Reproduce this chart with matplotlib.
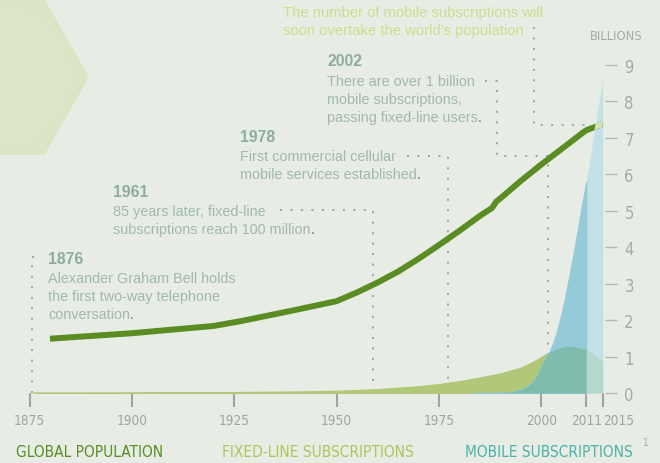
import numpy as np
import matplotlib
matplotlib.use("Agg")
import matplotlib.pyplot as plt
from matplotlib import font_manager as fm
from matplotlib.patches import Polygon, Ellipse

# ---- data (billions) ----
pop_years = [1880, 1900, 1910, 1920, 1927, 1930, 1940, 1950, 1955, 1960, 1965, 1970,
             1975, 1980, 1985, 1988, 1989, 1990, 1995, 2000, 2005, 2010, 2011, 2015]
pop = [1.49, 1.64, 1.74, 1.84, 1.98, 2.05, 2.28, 2.52, 2.76, 3.03, 3.33, 3.68,
       4.06, 4.45, 4.86, 5.08, 5.25, 5.34, 5.82, 6.27, 6.70, 7.13, 7.21, 7.38]

fixed_years = [1876, 1900, 1920, 1940, 1950, 1960, 1970, 1975, 1980, 1985, 1990,
               1995, 1998, 2000, 2002, 2004, 2006, 2008, 2010, 2011]
fixed = [0.0, 0.003, 0.015, 0.035, 0.055, 0.10, 0.18, 0.24, 0.32, 0.42, 0.53,
         0.69, 0.85, 0.98, 1.12, 1.22, 1.29, 1.27, 1.21, 1.19]
fixed_proj_years = [2011, 2013, 2015]
fixed_proj = [1.19, 1.05, 0.88]

mob_years = [1983, 1985, 1990, 1993, 1995, 1997, 1998, 1999, 2000, 2001, 2002,
             2003, 2004, 2005, 2006, 2007, 2008, 2009, 2010, 2011]
mob = [0.0, 0.001, 0.011, 0.034, 0.09, 0.21, 0.32, 0.49, 0.74, 0.96, 1.13,
       1.40, 1.76, 2.20, 2.72, 3.30, 3.90, 4.55, 5.20, 5.80]
mob_proj_years = [2011, 2015]
mob_proj = [5.80, 8.65]

x_ticks = [1875, 1900, 1925, 1950, 1975, 2000, 2011, 2015]
y_ticks = [0, 1, 2, 3, 4, 5, 6, 7, 8, 9]

top_note = ["The number of mobile subscriptions will",
            "soon overtake the world\u2019s population"]
notes = [
    ("1876", ["Alexander Graham Bell holds", "the first two-way telephone", "conversation"]),
    ("1961", ["85 years later, fixed-line", "subscriptions reach 100 million"]),
    ("1978", ["First commercial cellular", "mobile services established"]),
    ("2002", ["There are over 1 billion", "mobile subscriptions,", "passing fixed-line users"]),
]
legend_labels = ["GLOBAL POPULATION", "FIXED-LINE SUBSCRIPTIONS", "MOBILE SUBSCRIPTIONS"]

# ---- style ----
BG = "#e7ede4"
POP_C = "#5b8c24"
POP_PALE = "#d3e2bb"
FIXED_C = "#b0c878"
DARK_BLUE = "#95cad8"
LIGHT_BLUE = "#c3e2e8"
TEAL = "#80bcad"
LIGHT_TEAL = "#b3d8cc"
DOT_C = "#9c9c9c"
HEAD_C = "#8eab9d"
BODY_C = "#a2b8ac"
SANS = ["Liberation Sans", "DejaVu Sans"]
W, H = 660, 464


def has_font(name, stretch="normal"):
    try:
        path = fm.findfont(fm.FontProperties(family=name, stretch=stretch),
                           fallback_to_default=False)
    except ValueError:
        return False
    return stretch == "normal" or "ondensed" in path


# the original uses a condensed face; pick the narrowest one installed
if has_font("Liberation Sans Narrow"):
    NARROW = dict(family=["Liberation Sans Narrow", "DejaVu Sans"], stretch="normal")
    k = 1.0
elif has_font("DejaVu Sans", "condensed"):
    NARROW = dict(family=["DejaVu Sans"], stretch="condensed")
    k = 0.88
else:
    NARROW = dict(family=SANS, stretch="normal")
    k = 0.83


def fx(px):
    return px / W


def fy(py):
    return (H - py) / H


fig = plt.figure(figsize=(W / 100, H / 100), dpi=100, facecolor=BG)

# hexagon decoration, top left (faint radial shading)
hx, hy, r = 0, 78, 89
hex_pts = [(fx(hx + r * np.cos(a)), fy(hy + r * 1.01 * np.sin(a)))
           for a in np.radians(np.arange(0, 360, 60))]
fig.add_artist(Polygon(hex_pts, closed=True, transform=fig.transFigure,
                       fc="#dbe4c4", ec="none", zorder=-5))
for rad, c in [(70, "#dce5c6"), (50, "#dde6c8")]:
    fig.add_artist(Ellipse((fx(0), fy(78)), 2 * rad / W, 2 * rad / H,
                           transform=fig.transFigure, fc=c, ec="none", zorder=-4))

ax = fig.add_axes([fx(29.5), fy(394), fx(602.7) - fx(29.5), fy(66) - fy(394)])
ax.patch.set_visible(False)
ax.set_xlim(1875, 2015)
ax.set_ylim(0, 9)
for s in ax.spines.values():
    s.set_visible(False)

# areas
ax.fill_between(fixed_years, fixed, color=FIXED_C, ec=FIXED_C, lw=1.2, zorder=2)
mob_all_years = mob_years + mob_proj_years[1:]
mob_all = mob + mob_proj[1:]
proj_poly = ax.fill_between(mob_all_years, mob_all, color=LIGHT_BLUE, lw=0, zorder=3)
ax.fill_between(mob_years, mob, color=DARK_BLUE, ec=DARK_BLUE, lw=0.8, zorder=4)
xs = sorted(set(y for y in fixed_years + mob_years if y >= mob_years[0]))
overlap = np.minimum(np.interp(xs, fixed_years, fixed), np.interp(xs, mob_years, mob))
ax.fill_between(xs, overlap, color=TEAL, lw=0, zorder=5)
ax.fill_between(fixed_proj_years, fixed_proj, color=LIGHT_TEAL, lw=0, zorder=5)

# population line, pale where it runs into the projection
ax.plot(pop_years, pop, color=POP_C, lw=4.3, solid_capstyle="butt", zorder=6)
pale, = ax.plot(pop_years, pop, color=POP_PALE, lw=4.3, solid_capstyle="butt", zorder=7)
pale.set_clip_path(proj_poly.get_paths()[0], ax.transData)

# dotted connectors
dot_kw = dict(color=DOT_C, lw=1.3, ls=(0, (1.1, 4.7)), clip_on=False, zorder=1)
ax.plot([1875.5, 1875.5, 1878], [0, 3.72, 3.72], **dot_kw)
ax.plot([1936.2, 1958.8, 1958.8], [5.02, 5.02, 0], **dot_kw)
ax.plot([1967.1, 1977.3, 1977.3], [6.50, 6.50, 0], **dot_kw)
ax.plot([1986.3, 1989.1, 1989.1, 2001.6, 2001.6], [8.56, 8.56, 6.50, 6.50, 0], **dot_kw)
ax.plot([1998.2, 1998.2, 2012.5], [10.04, 7.35, 7.35], **dot_kw)

# annotations
note_pos = [(1879.5, 3.70), (1895.4, 5.54), (1926.4, 7.03), (1947.7, 9.11)]
step = 18 / 36.44
for (head, lines), (x, y) in zip(notes, note_pos):
    ax.text(x, y, head, color=HEAD_C, fontsize=11.3, fontweight="bold", family=SANS,
            va="center", ha="left")
    t = None
    for i, line in enumerate(lines):
        t = ax.text(x, y - 0.54 - i * step, line, color=BODY_C, fontsize=10.4,
                    family=SANS, va="center", ha="left")
    ax.annotate(".", xy=(1, 0), xycoords=t, va="bottom", ha="left",
                color="#6f6f6f", fontsize=10.4, family=SANS)

for i, line in enumerate(top_note):
    ax.text(1936.9, 10.46 - i * step, line, color="#cddc8d", fontsize=10.6,
            family=SANS, va="center", ha="left")

# axes ticks
ax.set_xticks(x_ticks, [str(v) for v in x_ticks])
ax.tick_params(axis="x", direction="out", length=10, width=1.5, color="#a3a3a3",
               pad=4.5, labelsize=11.2 * k, labelcolor="#a3a3a3")
for lab in ax.get_xticklabels():
    lab.set_family(NARROW["family"])
    lab.set_stretch(NARROW["stretch"])
ax.get_xticklabels()[-1].set_ha("left")

ax.yaxis.tick_right()
ax.spines["right"].set_position(("outward", 1.5))
ax.set_yticks(y_ticks, [str(v) for v in y_ticks])
ax.tick_params(axis="y", direction="out", length=8.6, width=1, color="#b5b5b5",
               pad=5.5, labelsize=13.5 * k, labelcolor="#a8a8a8")
for lab in ax.get_yticklabels():
    lab.set_family(NARROW["family"])
    lab.set_stretch(NARROW["stretch"])

fig.text(fx(616), fy(37), "BILLIONS", color="#a8a8a8", fontsize=10.5 * k,
         ha="center", va="center", **NARROW)

# legend labels
leg_colors = [POP_C, "#abc55c", "#4cb2a9"]
for lab, x, c in zip(legend_labels, [16, 222, 465], leg_colors):
    fig.text(fx(x), fy(453), lab, color=c, fontsize=12.6 * k, ha="left", va="center", **NARROW)
fig.text(fx(645), fy(443), "1", color="#a8a8a8", fontsize=7, ha="center", va="center", **NARROW)

fig.savefig("out.png", dpi=100, facecolor=BG)
